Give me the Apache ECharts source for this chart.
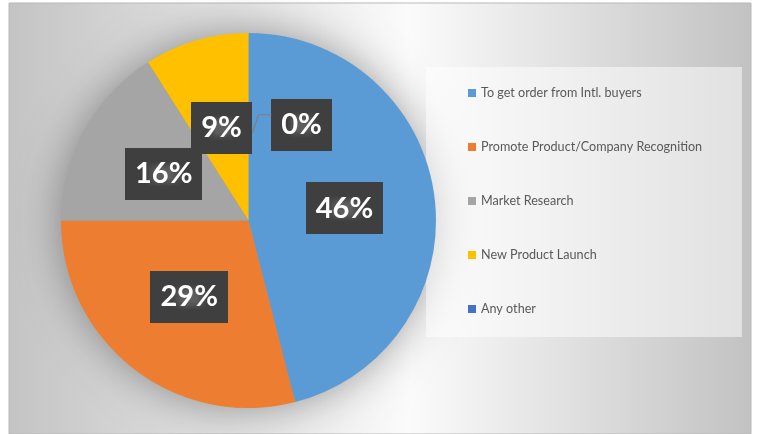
<!DOCTYPE html>
<html>
<head>
<meta charset="utf-8">
<script src="https://cdn.jsdelivr.net/npm/echarts@6/dist/echarts.min.js"></script>
<style>
  html, body { margin: 0; padding: 0; background: #ffffff; }
  #chart { width: 757px; height: 434px; }
</style>
</head>
<body>
<div id="chart"></div>
<script>
// Purpose of participation, share of respondents (%)
const categories = [
  'To get order from Intl. buyers',
  'Promote Product/Company Recognition',
  'Market Research',
  'New Product Launch',
  'Any other'
];
const shares = [46, 29, 16, 9, 0];
const sliceColors = ['#5B9BD5', '#ED7D31', '#A5A5A5', '#FFC000', '#4472C4'];

// pie geometry
const CX = 248.5, CY = 220.5, R = 187.5;
// the empty slice's badge is pulled aside by this much
const SHIFT_X = 53, SHIFT_Y = 1;

// small dotted tile used as the fill of the value badges
function dotTile() {
  const c = document.createElement('canvas');
  c.width = 6; c.height = 6;
  const g = c.getContext('2d');
  g.fillStyle = '#3f3f3f';
  g.fillRect(0, 0, 6, 6);
  g.fillStyle = '#5e5e5e';
  g.fillRect(2, 2, 2, 2);
  return c;
}
const tile = dotTile();

const chart = echarts.init(document.getElementById('chart'), null, { renderer: 'canvas' });

const pieData = categories.map((name, i) => ({
  name: name,
  value: shares[i],
  itemStyle: { color: sliceColors[i] }
}));

// leader line from the pulled-aside badge back toward its slice
const badgeY = CY - R / 2 + SHIFT_Y;
const leader = [
  [CX + SHIFT_X - 30, badgeY - 13],
  [CX + 10, badgeY - 13],
  [CX + 4, badgeY + 5]
];

chart.setOption({
  animation: false,
  backgroundColor: '#ffffff',
  graphic: [
    {
      type: 'rect',
      z: -10,
      shape: { x: 9, y: 3, width: 742, height: 431 },
      style: {
        fill: {
          type: 'linear', x: 0, y: 0, x2: 1, y2: 0,
          colorStops: [
            { offset: 0, color: '#c4c4c4' },
            { offset: 0.54, color: '#fbfbfb' },
            { offset: 1, color: '#c2c2c2' }
          ]
        },
        stroke: '#b8b8b8',
        lineWidth: 1
      }
    },
    {
      type: 'circle',
      z: -5,
      shape: { cx: CX, cy: CY, r: R - 2 },
      style: {
        fill: '#999999',
        shadowBlur: 45,
        shadowColor: 'rgba(0,0,0,0.4)'
      }
    },
    {
      type: 'rect',
      z: -4,
      shape: { x: 426, y: 67, width: 316, height: 270 },
      style: { fill: 'rgba(255,255,255,0.5)' }
    },
    {
      type: 'polyline',
      z: 50,
      shape: { points: leader },
      style: { stroke: '#7f7f7f', lineWidth: 1.2, fill: null }
    }
  ],
  legend: {
    orient: 'vertical',
    left: 468,
    top: 86,
    padding: 0,
    itemWidth: 8,
    itemHeight: 8,
    itemGap: 40,
    icon: 'rect',
    data: categories,
    textStyle: {
      fontFamily: 'Lato',
      fontSize: 12.6,
      lineHeight: 14,
      color: '#595959'
    }
  },
  series: [{
    type: 'pie',
    center: [CX, CY],
    radius: R,
    startAngle: 90,
    clockwise: true,
    silent: true,
    data: pieData,
    label: {
      show: true,
      position: 'inside',
      formatter: p => p.value + '%',
      color: '#ffffff',
      fontFamily: 'Lato',
      fontWeight: 'bold',
      fontSize: 29,
      lineHeight: 32,
      padding: [10, 10],
      backgroundColor: { image: tile },
      shadowColor: 'rgba(0,0,0,0.5)',
      shadowBlur: 4,
      shadowOffsetX: 3,
      shadowOffsetY: 3
    },
    labelLine: { show: false },
    labelLayout: function (params) {
      if (params.dataIndex !== 4) return {};
      return { dx: SHIFT_X, dy: SHIFT_Y };
    }
  }]
});
</script>
</body>
</html>
